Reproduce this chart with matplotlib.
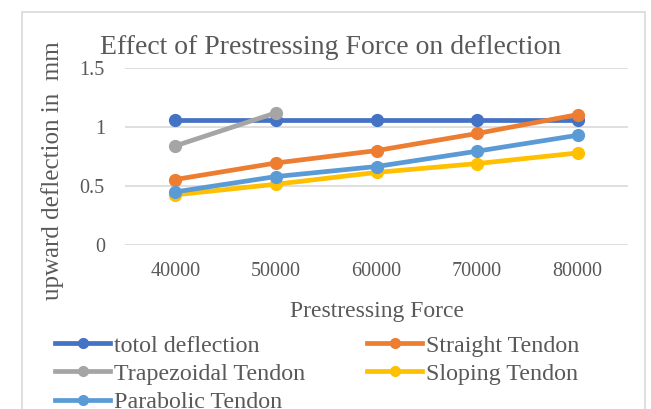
import numpy as np
import matplotlib.pyplot as plt
from matplotlib.lines import Line2D
from matplotlib.patches import Rectangle

plt.rcParams['font.family'] = ['Liberation Serif', 'DejaVu Serif']

# chart data
forces = ['40000', '50000', '60000', '70000', '80000']
total_deflection = [1.06, 1.06, 1.06, 1.06, 1.06]
straight = [0.555, 0.695, 0.80, 0.945, 1.105]
trapezoidal = [0.84, 1.12, np.nan, np.nan, np.nan]
sloping = [0.425, 0.515, 0.615, 0.69, 0.78]
parabolic = [0.45, 0.58, 0.665, 0.795, 0.93]

series = [
    ('totol deflection', total_deflection, '#4472C4'),
    ('Straight Tendon', straight, '#ED7D31'),
    ('Trapezoidal Tendon', trapezoidal, '#A5A5A5'),
    ('Sloping Tendon', sloping, '#FFC000'),
    ('Parabolic Tendon', parabolic, '#5B9BD5'),
]

txt = '#595959'
grid = '#D9D9D9'

fig = plt.figure(figsize=(6.51, 4.09), dpi=100)
fig.patches.append(Rectangle((22/651, -0.05), 623/651, 1 - 12/409 + 0.05,
                             transform=fig.transFigure, fill=False,
                             edgecolor=grid, lw=1.2))

ax = fig.add_axes([125/651, 1 - 245/409, 503/651, 177/409])

handles = {}
for name, vals, col in series:
    ln, = ax.plot(forces, vals, color=col, lw=3.4, marker='o', ms=8.5,
                  label=name, solid_capstyle='round')
    handles[name] = ln

ax.set_xlim(-0.5, 4.5)
ax.set_ylim(0, 1.5)
ax.set_yticks([0, 0.5, 1, 1.5])
ax.set_yticklabels(['0', '0.5', '1', '1.5'])
ax.yaxis.grid(True, color=grid, lw=1.2)
ax.set_axisbelow(True)
for s in ax.spines.values():
    s.set_visible(False)
ax.tick_params(length=0, labelsize=14.5, colors=txt)
ax.tick_params(axis='y', pad=14.5)
ax.tick_params(axis='x', pad=12)

fig.text(377/651, 1 - 311/409, 'Prestressing Force', ha='center',
         va='center', fontsize=17, color=txt)
fig.text(53/651, 1 - 171/409, 'upward deflection in  mm', rotation=90,
         ha='center', va='center', fontsize=18, color=txt)
fig.text(331/651, 1 - 48/409, 'Effect of Prestressing Force on deflection',
         ha='center', va='center', fontsize=20, color=txt)

# excel fills the legend row by row
order = ['totol deflection', 'Trapezoidal Tendon', 'Parabolic Tendon',
         'Straight Tendon', 'Sloping Tendon']
leg_handles = [Line2D([], [], color=handles[n].get_color(), lw=3.4,
                      marker='o', ms=7) for n in order]
fig.legend(leg_handles, order, ncol=2, loc='upper left',
           bbox_to_anchor=(55/651, 1 - 335/409), frameon=False,
           fontsize=17.3, labelcolor=txt, handlelength=2.3, handletextpad=0.17,
           columnspacing=2.55, labelspacing=0.26, borderaxespad=0,
           borderpad=0)

fig.savefig('out.png', dpi=100)
